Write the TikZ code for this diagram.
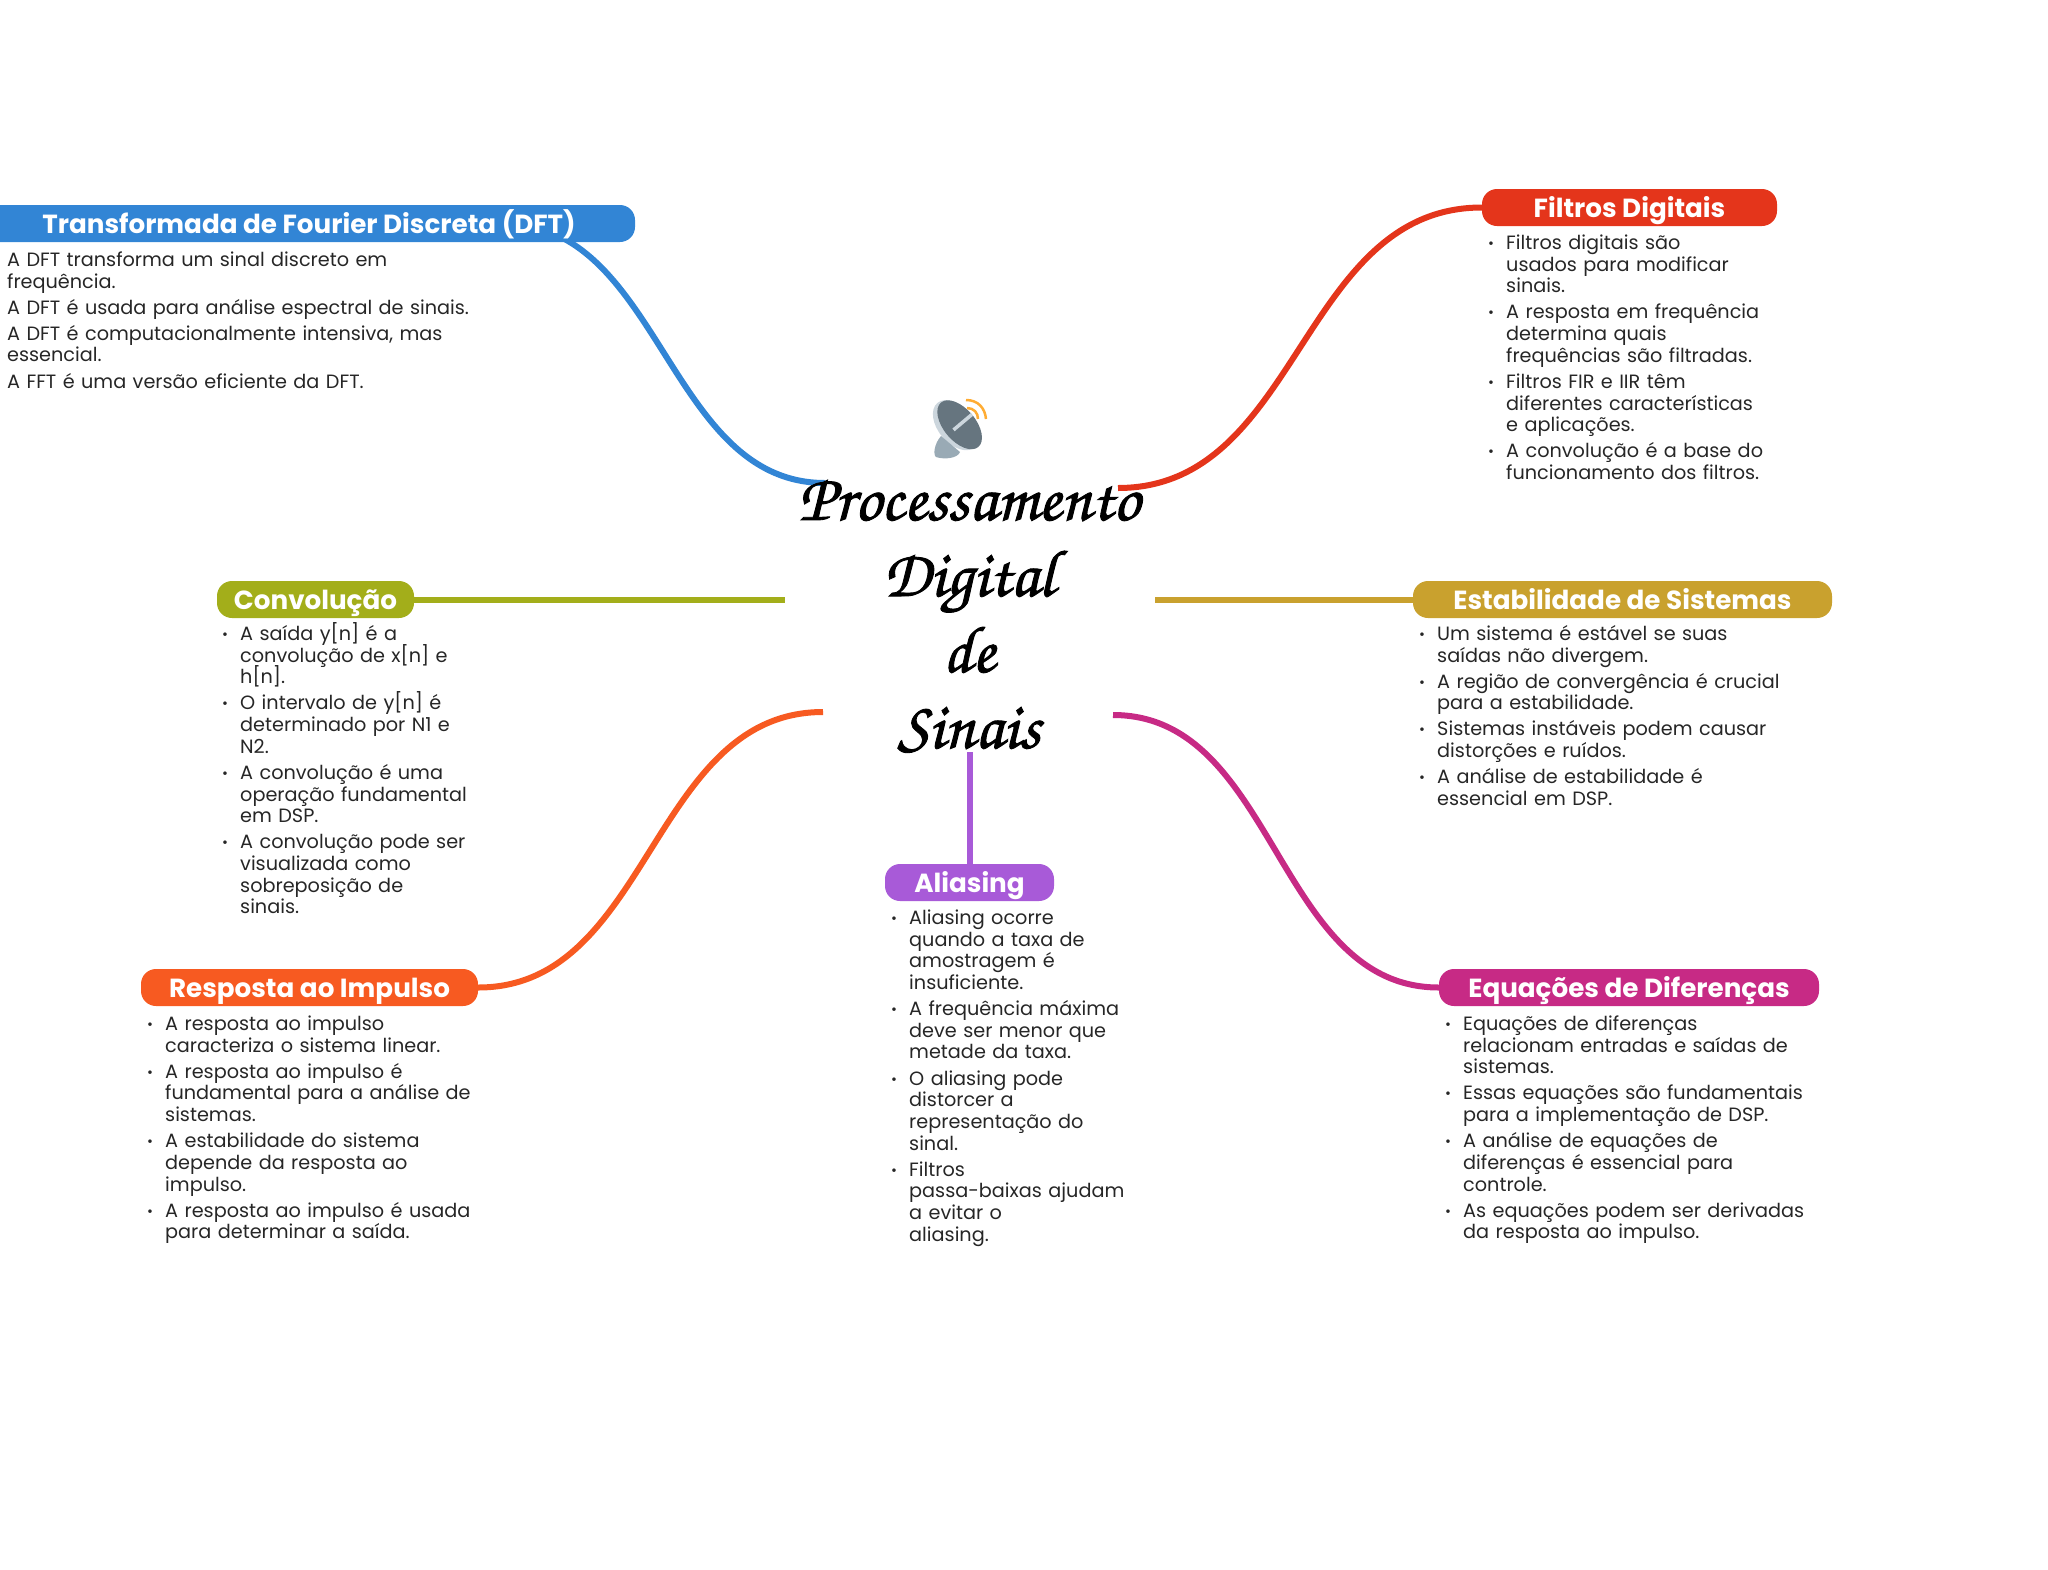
\documentclass[tikz,border=0pt]{standalone}
\usepackage{fontspec}
\setmainfont{Poppins}
\usetikzlibrary{backgrounds}
\definecolor{cdft}{HTML}{3285D5}
\definecolor{cfil}{HTML}{E4351B}
\definecolor{ccon}{HTML}{A3AE1A}
\definecolor{cest}{HTML}{C9A12E}
\definecolor{cres}{HTML}{F75A21}
\definecolor{cequ}{HTML}{C72A85}
\definecolor{cali}{HTML}{A85AD8}
\definecolor{ctxt}{HTML}{262626}
\newcommand{\bitem}[1]{\par\hangindent=23pt\hangafter=1\noindent\makebox[23pt][l]{\hspace*{5pt}\raisebox{1pt}{\scalebox{.75}{•}}}#1\par}
\newcommand{\pitem}[1]{\par\noindent #1\par}
\tikzset{
  pill/.style={draw=none,rounded corners=15pt,minimum height=37pt,inner sep=0pt,text=white,text height=24pt,text depth=5pt,font=\bfseries\fontsize{26.2}{30}\selectfont},
  body/.style={anchor=north west,inner sep=0pt,text width=520pt,align=left,text=ctxt,font=\fontsize{19.25}{21.7}\selectfont,execute at begin node={\setlength\parskip{4.4pt}\setlength\parindent{0pt}\lineskiplimit=-20pt\relax}},
  conn/.style={draw=#1,line width=6pt},
  hub/.style={font=\usefont{T1}{pzc}{mb}{it}\fontsize{66.6}{76}\selectfont,align=center,inner sep=0pt,text=black}
}
\begin{document}
\begin{tikzpicture}[x=1pt,y=-1pt]
\useasboundingbox (0,0) rectangle (2048,1569);
\node[pill,fill=cdft,minimum width=652pt] (dft) at (309,223.5) {Transformada de Fourier Discreta (DFT)};
\node[pill,fill=cfil,minimum width=295pt] (fil) at (1629.5,207.5) {Filtros Digitais};
\node[pill,fill=ccon,minimum width=197pt] (con) at (315.5,599.5) {Convolução};
\node[pill,fill=cest,minimum width=419pt] (est) at (1622.5,599.5) {Estabilidade de Sistemas};
\node[pill,fill=cres,minimum width=337pt] (res) at (309.5,987.5) {Resposta ao Impulso};
\node[pill,fill=cequ,minimum width=380pt] (equ) at (1629,987.5) {Equações de Diferenças};
\node[pill,fill=cali,minimum width=169pt] (ali) at (969.5,882.5) {Aliasing};

\node[hub] (hubt) at (969,616) {\special{pdf: code 2 Tr 0.9 w}Processamento\\Digital\\de\\Sinais\special{pdf: code 0 Tr 0 w}};
\coordinate (hdft) at (825,483);
\coordinate (hfil) at (1118,488);
\coordinate (hcon) at (785,599.5);
\coordinate (hest) at (1155,599.5);
\coordinate (hres) at (823,712);
\coordinate (hequ) at (1113,715);
\coordinate (hali) at (969.5,752);

\begin{pgfonlayer}{background}
\draw[conn=cdft] ([xshift=-132pt]dft.east) .. controls +(158,0) and +(-158,0) .. (hdft);
\draw[conn=cfil] (fil.west) .. controls +(-182,0) and +(182,0) .. (hfil);
\draw[conn=ccon] (con.east) -- (hcon);
\draw[conn=cest] (est.west) -- (hest);
\draw[conn=cres] (res.east) .. controls +(172,0) and +(-172,0) .. (hres);
\draw[conn=cequ] (equ.west) .. controls +(-163,0) and +(163,0) .. (hequ);
\draw[conn=cali] (ali.north) -- (hali);
\end{pgfonlayer}

% satellite antenna icon
\begin{scope}[shift={(959,424)},rotate=-50]
\fill[fill={rgb,255:red,204;green,214;blue,221}] (-1,3) ellipse (29 and 18);
\fill[fill={rgb,255:red,102;green,117;blue,127}] (1,0) ellipse (29 and 16);
\draw[draw={rgb,255:red,204;green,214;blue,221},line width=3.5pt] (1,8) -- (1,-16);
\end{scope}
\fill[fill={rgb,255:red,153;green,170;blue,181}] (941,436) .. controls (934,444) and (933,455) .. (936,457) .. controls (945,460) and (958,458) .. (960,452) -- cycle;
\draw[draw={rgb,255:red,255;green,172;blue,51},line width=2.5pt] (967,408) .. controls (974,408) and (978,413) .. (978,419);
\draw[draw={rgb,255:red,255;green,172;blue,51},line width=2.5pt] (966,400) .. controls (978,400) and (985,408) .. (986,419);

\node[body] (tdft) at (7,240) {%
\pitem{A DFT transforma um sinal discreto em\newline frequência.}
\pitem{A DFT é usada para análise espectral de sinais.}
\pitem{A DFT é computacionalmente intensiva, mas\newline essencial.}
\pitem{A FFT é uma versão eficiente da DFT.}};
\node[body] (tfil) at (1483,223) {%
\bitem{Filtros digitais são\newline usados para modificar\newline sinais.}
\bitem{A resposta em frequência\newline determina quais\newline frequências são filtradas.}
\bitem{Filtros FIR e IIR têm\newline diferentes características\newline e aplicações.}
\bitem{A convolução é a base do\newline funcionamento dos filtros.}};
\node[body] (test) at (1414,614) {%
\bitem{Um sistema é estável se suas\newline saídas não divergem.}
\bitem{A região de convergência é crucial\newline para a estabilidade.}
\bitem{Sistemas instáveis podem causar\newline distorções e ruídos.}
\bitem{A análise de estabilidade é\newline essencial em DSP.}};
\node[body] (tcon) at (217,614) {%
\bitem{A saída y[n] é a\newline convolução de x[n] e\newline h[n].}
\bitem{O intervalo de y[n] é\newline determinado por N1 e\newline N2.}
\bitem{A convolução é uma\newline operação fundamental\newline em DSP.}
\bitem{A convolução pode ser\newline visualizada como\newline sobreposição de\newline sinais.}};
\node[body] (tres) at (142,1004) {%
\bitem{A resposta ao impulso\newline caracteriza o sistema linear.}
\bitem{A resposta ao impulso é\newline fundamental para a análise de\newline sistemas.}
\bitem{A estabilidade do sistema\newline depende da resposta ao\newline impulso.}
\bitem{A resposta ao impulso é usada\newline para determinar a saída.}};
\node[body] (tequ) at (1440,1004) {%
\bitem{Equações de diferenças\newline relacionam entradas e saídas de\newline sistemas.}
\bitem{Essas equações são fundamentais\newline para a implementação de DSP.}
\bitem{A análise de equações de\newline diferenças é essencial para\newline controle.}
\bitem{As equações podem ser derivadas\newline da resposta ao impulso.}};
\node[body] (tali) at (886,898) {%
\bitem{Aliasing ocorre\newline quando a taxa de\newline amostragem é\newline insuficiente.}
\bitem{A frequência máxima\newline deve ser menor que\newline metade da taxa.}
\bitem{O aliasing pode\newline distorcer a\newline representação do\newline sinal.}
\bitem{Filtros\newline passa-baixas ajudam\newline a evitar o\newline aliasing.}};
\end{tikzpicture}
\end{document}
